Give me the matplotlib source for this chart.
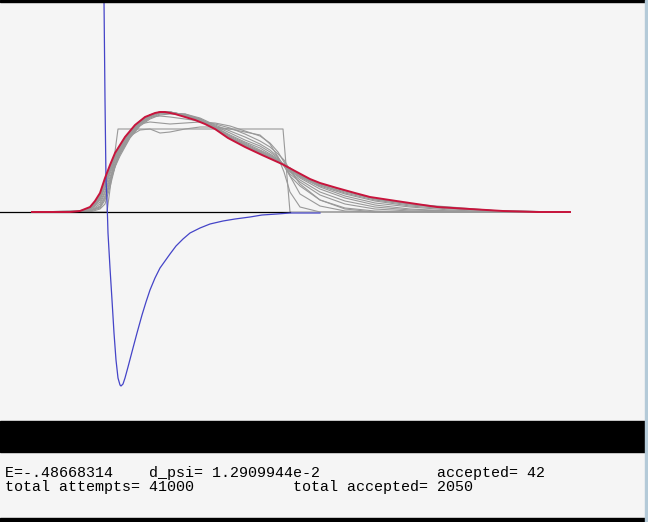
import matplotlib
matplotlib.use("Agg")
import matplotlib.pyplot as plt
from matplotlib.patches import Rectangle

# radial grid shared by the gray iteration curves
grid_r = [-1.46, -0.5, -0.3, -0.1, 0.0, 0.1, 0.2, 0.3, 0.5, 0.7, 0.9, 1.1, 1.3,
          1.6, 1.9, 2.2, 2.5, 2.8, 3.1, 3.3, 3.46, 3.58, 3.7, 3.9, 4.3, 4.8,
          5.4, 6.1, 6.9, 7.9, 9.3]

# starting trial function (box)
box_r = [-1.46, 0.04, 0.26, 3.56, 3.70, 9.30]
box_psi = [0.0, 0.0, 0.83, 0.83, 0.0, 0.0]

# intermediate wave functions
iter_psi = [
    [0, 0, 0, 0.03, 0.08, 0.25, 0.45, 0.62, 0.76, 0.82, 0.83, 0.79, 0.80, 0.83, 0.85, 0.85, 0.83, 0.80, 0.77, 0.68, 0.55, 0.40, 0.20, 0.05, 0, 0, 0, 0, 0, 0, 0],
    [0, 0, 0.01, 0.04, 0.12, 0.28, 0.46, 0.60, 0.78, 0.88, 0.90, 0.89, 0.88, 0.89, 0.90, 0.89, 0.86, 0.81, 0.76, 0.69, 0.60, 0.50, 0.36, 0.18, 0.06, 0.01, 0, 0, 0, 0, 0],
    [0, 0, 0.01, 0.05, 0.14, 0.30, 0.46, 0.58, 0.75, 0.88, 0.95, 0.96, 0.95, 0.93, 0.91, 0.88, 0.84, 0.78, 0.71, 0.65, 0.58, 0.52, 0.42, 0.28, 0.12, 0.03, 0, 0, 0, 0, 0],
    [0, 0, 0.01, 0.06, 0.16, 0.30, 0.45, 0.56, 0.74, 0.86, 0.93, 0.97, 0.98, 0.98, 0.94, 0.87, 0.81, 0.75, 0.68, 0.62, 0.55, 0.46, 0.36, 0.26, 0.12, 0.04, 0.01, 0, 0, 0, 0],
    [0, 0, 0.01, 0.08, 0.19, 0.33, 0.47, 0.58, 0.75, 0.87, 0.94, 0.98, 0.99, 0.98, 0.93, 0.86, 0.79, 0.72, 0.66, 0.60, 0.54, 0.46, 0.38, 0.30, 0.17, 0.08, 0.03, 0.01, 0, 0, 0],
    [0, 0, 0.02, 0.10, 0.21, 0.35, 0.49, 0.60, 0.76, 0.88, 0.95, 0.99, 1.00, 0.97, 0.93, 0.85, 0.77, 0.70, 0.64, 0.58, 0.53, 0.47, 0.40, 0.32, 0.20, 0.11, 0.05, 0.02, 0.01, 0, 0],
    [0, 0, 0.02, 0.12, 0.24, 0.38, 0.51, 0.61, 0.77, 0.89, 0.96, 0.99, 1.00, 0.97, 0.93, 0.85, 0.76, 0.69, 0.62, 0.57, 0.52, 0.47, 0.41, 0.34, 0.23, 0.14, 0.07, 0.03, 0.01, 0, 0],
    [0, 0, 0.03, 0.13, 0.26, 0.40, 0.53, 0.62, 0.78, 0.89, 0.96, 1.00, 1.00, 0.97, 0.92, 0.84, 0.75, 0.68, 0.61, 0.56, 0.52, 0.47, 0.42, 0.35, 0.25, 0.16, 0.09, 0.05, 0.02, 0, 0],
    [0, 0, 0.03, 0.14, 0.28, 0.42, 0.54, 0.63, 0.79, 0.90, 0.97, 1.00, 1.00, 0.97, 0.92, 0.84, 0.75, 0.67, 0.60, 0.55, 0.51, 0.47, 0.43, 0.36, 0.26, 0.18, 0.11, 0.06, 0.03, 0.01, 0],
    [0, 0.01, 0.04, 0.15, 0.30, 0.43, 0.55, 0.64, 0.79, 0.90, 0.97, 1.00, 1.00, 0.96, 0.92, 0.84, 0.74, 0.67, 0.60, 0.55, 0.51, 0.47, 0.43, 0.36, 0.27, 0.19, 0.12, 0.07, 0.04, 0.01, 0],
    [0, 0.01, 0.04, 0.16, 0.31, 0.44, 0.56, 0.65, 0.80, 0.90, 0.97, 1.00, 0.99, 0.96, 0.92, 0.84, 0.74, 0.66, 0.59, 0.54, 0.51, 0.47, 0.44, 0.37, 0.27, 0.20, 0.13, 0.08, 0.04, 0.01, 0],
    [0, 0.01, 0.04, 0.17, 0.32, 0.45, 0.57, 0.66, 0.80, 0.91, 0.97, 1.00, 0.99, 0.96, 0.91, 0.83, 0.74, 0.66, 0.59, 0.54, 0.50, 0.47, 0.44, 0.37, 0.28, 0.21, 0.13, 0.08, 0.05, 0.01, 0],
]

# final wave function
psi_r = [-1.46, -0.70, -0.50, -0.40, -0.30, -0.20, -0.10, 0.00, 0.10, 0.20, 0.30,
         0.40, 0.50, 0.60, 0.70, 0.80, 0.90, 1.00, 1.10, 1.20, 1.30, 1.40, 1.60,
         1.80, 2.00, 2.20, 2.46, 2.80, 3.14, 3.54, 3.80, 4.10, 4.30, 4.64, 5.00,
         5.30, 5.96, 6.64, 7.30, 7.96, 8.64, 9.30]
psi = [0.00, 0.00, 0.01, 0.03, 0.05, 0.11, 0.19, 0.34, 0.47, 0.59, 0.67,
       0.75, 0.81, 0.87, 0.91, 0.95, 0.97, 0.99, 1.00, 1.00, 0.99, 0.98, 0.95,
       0.92, 0.88, 0.83, 0.74, 0.65, 0.57, 0.48, 0.41, 0.33, 0.29, 0.24, 0.19,
       0.15, 0.10, 0.05, 0.03, 0.01, 0.00, 0.00]

# potential
pot_r = [-0.03, -0.02, 0.00, 0.02, 0.04, 0.06, 0.10, 0.14, 0.18, 0.22, 0.26,
         0.30, 0.32, 0.36, 0.40, 0.46, 0.56, 0.64, 0.74, 0.82, 0.90, 1.00,
         1.10, 1.20, 1.30, 1.42, 1.56, 1.70, 1.90, 2.10, 2.36, 2.60, 2.90,
         3.14, 3.44, 3.70, 4.30]
pot = [2.62, 2.12, 1.12, 0.32, 0.12, -0.21, -0.56, -0.88, -1.21, -1.48, -1.66,
       -1.73, -1.74, -1.72, -1.66, -1.55, -1.36, -1.21, -1.03, -0.90, -0.78, -0.66,
       -0.56, -0.49, -0.42, -0.34, -0.27, -0.21, -0.16, -0.12, -0.09, -0.07, -0.05,
       -0.03, -0.02, -0.01, -0.01]

axis_span = [-2.1, 3.7]

energy = "-.48668314"
d_psi = "1.2909944e-2"
accepted = 42
total_attempts = 41000
total_accepted = 2050

bg = "#f5f5f5"
fig = plt.figure(figsize=(6.48, 5.22), dpi=100, facecolor=bg)
ax = fig.add_axes([0.0, 1 - 421 / 522, 645 / 648, 419 / 522])
ax.set_facecolor(bg)
ax.set_xlim(-2.1, 10.8)
ax.set_ylim(-2.09, 2.10)
ax.axis("off")

ax.plot(box_r, box_psi, color="#999999", lw=0.8)
for p in iter_psi:
    ax.plot(grid_r, p, color="#999999", lw=0.8)
ax.plot(axis_span, [0, 0], color="black", lw=0.9)
ax.plot(pot_r, pot, color="#4444c8", lw=0.9)
ax.plot(psi_r, psi, color="#c8143c", lw=1.4)

# frame strips
W, H = 648, 522
def strip(x0, y0, w, h, c):
    fig.patches.append(Rectangle((x0 / W, 1 - (y0 + h) / H), w / W, h / H,
                                 transform=fig.transFigure, color=c, zorder=5))
strip(0, 0, 648, 2, "black")
strip(0, 421, 645, 31, "black")
strip(0, 518, 645, 4, "black")
strip(645, 0, 3, 522, "#b4cad8")

line1 = "E=" + energy + "    d_psi= " + d_psi + " " * 13 + "accepted= " + str(accepted)
line2 = "total attempts= " + str(total_attempts) + " " * 11 + "total accepted= " + str(total_accepted)
fig.text(5 / W, 1 - 477 / H, line1, family="Liberation Mono", fontsize=10.8,
         va="baseline", ha="left", color="black")
fig.text(5 / W, 1 - 491 / H, line2, family="Liberation Mono", fontsize=10.8,
         va="baseline", ha="left", color="black")

fig.savefig("out.png", dpi=100, facecolor=bg)
